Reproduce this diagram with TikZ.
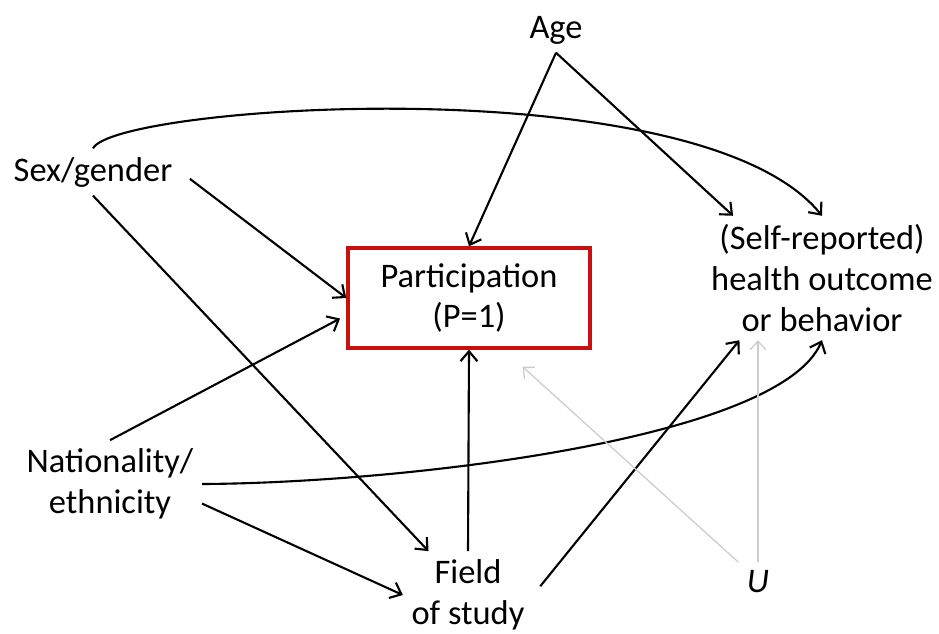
\documentclass[tikz,border=0pt]{standalone}
\usepackage{fontspec}
\setmainfont{Carlito}
\usetikzlibrary{arrows.meta}
\definecolor{boxred}{RGB}{200,16,16}

\begin{document}
\begin{tikzpicture}[x=0.025cm,y=-0.025cm]
\tikzstyle{every node}+=[font=\fontsize{24.5}{29}\selectfont,align=center,inner sep=6pt]
\tikzstyle{dag}=[-{Straight Barb[length=7pt,width=12pt]},line width=1.5pt,black]
\tikzstyle{faint}=[-{Straight Barb[length=6pt,width=11pt]},line width=0.9pt,gray!40]
\useasboundingbox (0,0) rectangle (939,633);
\node (age) at (556,30) {Age};
\node (sex) at (93,172) {Sex/gender};
\node [draw=boxred,line width=2.4pt,minimum width=6.05cm,minimum height=2.5cm] (part) at (469,298) {Participation\\(P=1)};
\node (health) at (822,278) {(Self-reported)\\health outcome\\or behavior};
\node (nat) at (110,484) {Nationality/\\ethnicity};
\node (field) at (468,595) {Field\\of study};
\node (u) at (758,582) {\textit{U}};
\draw [dag] (age.south) -- (part.north);
\draw [dag] (age.south) -- (health.145);
\draw [dag] (sex.north) .. controls (115,105) and (700,65) .. (health.north);
\draw [dag,shorten <=8pt] (sex.east) -- (part.west);
\draw [dag] (sex.south) -- (field.132);
\draw [dag,shorten >=5pt] (nat.north) -- (part.-172);
\draw [dag] (nat.east) .. controls (400,483) and (780,440) .. (health.south);
\draw [dag] (nat.-12) -- (field.west);
\draw [dag] (field.north) -- (part.south);
\draw [dag,shorten <=8pt] (field.east) -- (health.-143);
\draw [faint,shorten >=18pt] (u.north west) -- (part.-56);
\draw [faint] (u.north) -- (u |- health.south);
\end{tikzpicture}
\end{document}
